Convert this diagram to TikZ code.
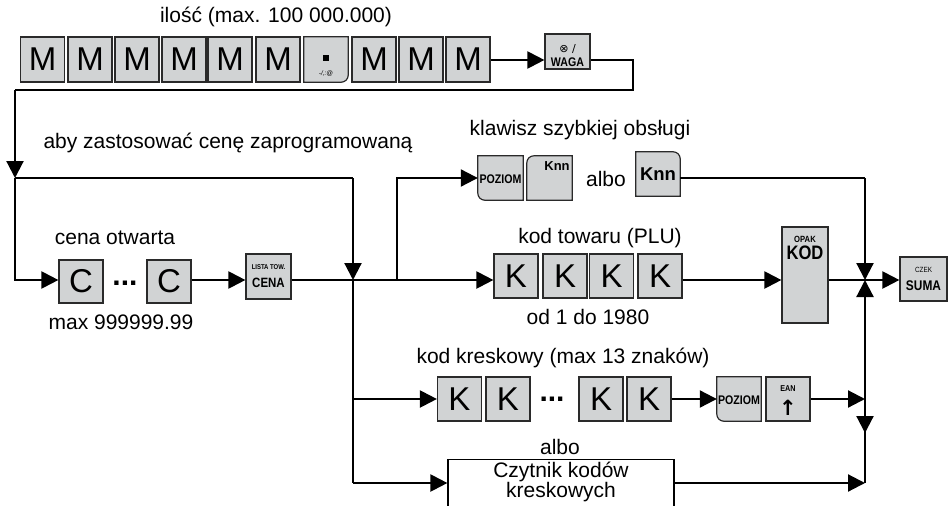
\documentclass[tikz,border=0pt]{standalone}
\usepackage{fontspec}
\setmainfont{Liberation Sans}
\newfontfamily\keynarrow[FakeStretch=0.85]{Liberation Sans}
\newfontfamily\symfont{DejaVu Sans}
\usetikzlibrary{arrows.meta,backgrounds}
\definecolor{keyfill}{HTML}{D1D3D4}
\definecolor{keyline}{HTML}{2A2A2A}
\begin{document}
\begin{tikzpicture}[x=1pt,y=-1pt,
  flow/.style={line width=2.2pt, draw=black},
  arr/.style={flow, -{Triangle[length=17pt,width=17pt]}},
  key/.style={draw=keyline, fill=keyfill, line width=1.2pt, minimum width=44pt, minimum height=44pt, inner sep=0pt, font=\fontsize{33}{33}\selectfont},
  keynode/.style={draw=none, fill=none, minimum width=44pt, minimum height=44pt, inner sep=0pt},
  keybg/.style={draw=keyline, fill=keyfill, line width=1.2pt},
  lbl/.style={font=\fontsize{21}{21}\selectfont, inner sep=0pt},
  kt/.style={inner sep=0pt, font=\keynarrow\bfseries\fontsize{#1}{#1}\selectfont},
  dots/.style={inner sep=0pt, font=\bfseries\fontsize{30}{30}\selectfont}
]
\useasboundingbox (0,0) rectangle (951,506);
\clip (0,0) rectangle (951,506);

% ---------- texts
\node[lbl] (tq) at (276,17) {ilość (max. 100 000.000)};
\node[lbl] (tz) at (228,143) {aby zastosować cenę zaprogramowaną};
\node[lbl] (tk) at (580,130) {klawisz szybkiej obsługi};
\node[lbl] (ta1) at (606,179) {albo};
\node[lbl] (tc) at (115,238) {cena otwarta};
\node[lbl] (tm) at (121,322) {max 999999.99};
\node[lbl] (tp) at (600,238) {kod towaru (PLU)};
\node[lbl] (to) at (588,317) {od 1 do 1980};
\node[lbl] (tb) at (563,358) {kod kreskowy (max 13 znaków)};
\node[lbl] (ta2) at (560,447) {albo};

% ---------- top row
\foreach \n/\x in {m1/42.5,m2/90,m3/137,m4/184,m5/230,m6/278,m7/374,m8/421,m9/468}
  \node[key, minimum height=45pt] (\n) at (\x,59.5) {M};
\node[keynode, minimum height=45pt] (dot) at (326,59.5) {};
\fill (323,55) rectangle (328.5,60.5);
\node[inner sep=0pt, font=\itshape\fontsize{6.5}{6.5}\selectfont] (dotlbl) at (326,73.5) {-/,:@};
\node[key, minimum width=45pt, minimum height=35pt] (waga) at (567.5,51.5) {};
\node[inner sep=0pt, font=\symfont\fontsize{11}{11}\selectfont] (wagas) at (567.5,48.5) {⊗ /};
\node[kt=12.5] (wagat) at (567.5,62.5) {WAGA};

% ---------- cena row
\node[key, minimum height=43pt] (c1) at (81,281.5) {C};
\node[dots] (cdots) at (125,283) {...};
\node[key, minimum height=43pt] (c2) at (169,281.5) {C};
\node[key, minimum width=45pt, minimum height=45pt] (cena) at (268.5,276.5) {};
\node[kt=7] (cenas) at (268.5,267) {LISTA TOW.};
\node[kt=13.5] (cenat) at (268.5,283) {CENA};

% ---------- quick keys
\node[keynode, minimum width=45pt] (poz1) at (500.5,178) {};
\node[kt=12.5] (poz1t) at (500.5,179) {POZIOM};
\node[keynode, minimum width=45pt] (knn1) at (549.5,178) {};
\node[inner sep=0pt, font=\bfseries\fontsize{13}{13}\selectfont] (knn1t) at (557,166) {Knn};
\node[keynode] (knn2) at (658,174) {};
\node[inner sep=0pt, font=\bfseries\fontsize{18.5}{18.5}\selectfont] (knn2t) at (658,174) {Knn};

% ---------- PLU
\node[key] (k1) at (516,276) {K};
\node[key] (k2) at (565,276) {K};
\node[key] (k3) at (611.5,276) {K};
\node[key] (k4) at (660,276) {K};
\node[key, minimum width=46pt, minimum height=96pt] (kod) at (805,275) {};
\node[kt=9] (kods) at (805,239) {OPAK};
\node[kt=19.5] (kodt) at (805,253) {KOD};
\node[key, minimum width=47pt, minimum height=44pt] (suma) at (923.5,279) {};
\node[inner sep=0pt, font=\keynarrow\fontsize{7.5}{7.5}\selectfont] (sumas) at (923.5,270) {CZEK};
\node[kt=14] (sumat) at (923.5,285.5) {SUMA};

% ---------- barcode
\node[key] (bk1) at (459.5,399) {K};
\node[key] (bk2) at (508,399) {K};
\node[dots] (bdots) at (552,399) {...};
\node[key] (bk3) at (601,399) {K};
\node[key] (bk4) at (649,399) {K};
\node[keynode] (poz2) at (739,399) {};
\node[kt=12.5] (poz2t) at (739,400) {POZIOM};
\node[key] (ean) at (788,399) {};
\node[kt=8.5] (eans) at (788,389) {EAN};
\node[inner sep=0pt, font=\symfont\bfseries\fontsize{21}{21}\selectfont] (eana) at (788,408) {↑};

% ---------- reader
\node[draw=black, line width=1.2pt, minimum width=226pt, minimum height=80pt, anchor=north, inner sep=0pt] (rdr) at (561,459) {};
\node[inner sep=0pt, align=center, font=\fontsize{21}{20}\selectfont] (rdrt) at (561,482) {Czytnik kodów\\kreskowych};

% ---------- rounded keys on background
\begin{scope}[on background layer]
\filldraw[keybg] (dot.north west) -- (dot.north east) -- ([yshift=7pt]dot.south east) arc[start angle=0,end angle=-90,radius=7pt] -- (dot.south west) -- cycle;
\filldraw[keybg] (poz1.north west) -- (poz1.north east) -- (poz1.south east) -- ([xshift=7pt]poz1.south west) arc[start angle=270,end angle=180,radius=7pt] -- cycle;
\filldraw[keybg] (knn1.south west) -- (knn1.south east) -- (knn1.north east) -- ([xshift=7pt]knn1.north west) arc[start angle=90,end angle=180,radius=7pt] -- cycle;
\filldraw[keybg] (knn2.south east) -- (knn2.south west) -- (knn2.north west) -- ([xshift=-7pt]knn2.north east) arc[start angle=90,end angle=0,radius=7pt] -- cycle;
\filldraw[keybg] (poz2.north west) -- (poz2.north east) -- (poz2.south east) -- ([xshift=7pt]poz2.south west) arc[start angle=270,end angle=180,radius=7pt] -- cycle;
\end{scope}

% ---------- coordinates
\coordinate (yt) at (0,60);
\coordinate (yp) at (0,178);
\coordinate (ym) at (0,280);
\coordinate (yb) at (0,399);
\coordinate (yc) at (0,483);
\coordinate (r1) at (633,60);
\coordinate (r2) at (633,90);
\coordinate (l1) at (15,90);
\coordinate (l2) at (15,178);
\coordinate (l3) at (15,280);
\coordinate (v1) at (353,178);
\coordinate (v2) at (353,280);
\coordinate (v3) at (353,399);
\coordinate (v4) at (353,483);
\coordinate (u1) at (397,280);
\coordinate (u2) at (397,178);
\coordinate (j0) at (865,178);
\coordinate (j1) at (865,280);
\coordinate (j2) at (865,399);
\coordinate (j3) at (865,433);
\coordinate (j4) at (865,483);

% ---------- connectors
\draw[arr] (m9.east |- yt) -- (waga.west |- yt);
\draw[flow] (waga.east |- yt) -- (r1) -- (r2) -- (l1);
\draw[arr] (l1) -- (l2);
\draw[flow] (l2) -- (v1);
\draw[arr] (v1) -- (v2);
\draw[arr] (l2) -- (l3) -- (c1.west |- ym);
\draw[arr] (c2.east |- ym) -- (cena.west |- ym);
\draw[arr] (cena.east |- ym) -- (k1.west |- ym);
\draw[arr] (u1) -- (u2) -- (poz1.west |- yp);
\draw[flow] (knn2.east |- yp) -- (j0);
\draw[arr] (j0) -- (j1);
\draw[arr] (k4.east |- ym) -- (kod.west |- ym);
\draw[arr] (kod.east |- ym) -- (suma.west |- ym);
\draw[flow] (v2) -- (v4);
\draw[arr] (v3) -- (bk1.west |- yb);
\draw[arr] (v4) -- (rdr.west |- yc);
\draw[arr] (bk4.east |- yb) -- (poz2.west |- yb);
\draw[arr] (ean.east |- yb) -- (j2);
\draw[arr] (rdr.east |- yc) -- (j4);
\draw[flow] (j2) -- (j4);
\draw[arr] (j2) -- (j3);
\draw[arr] (j2) -- (j1);
\end{tikzpicture}
\end{document}
